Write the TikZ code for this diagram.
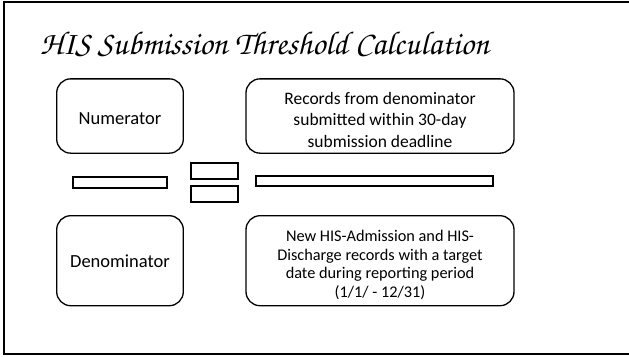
\documentclass[tikz,border=0pt]{standalone}
\usepackage{fontspec}
\setmainfont{Carlito}
\newfontfamily\titlefont{texgyrechorus-mediumitalic.otf}
\begin{document}
\begin{tikzpicture}[x=1pt,y=-1pt,
  rbox/.style={draw, line width=1.3pt, rounded corners=14pt, inner sep=0pt},
  txt/.style={align=center, inner sep=0pt},
  bar/.style={draw, line width=1.3pt, inner sep=0pt},
  toptxt/.style={txt, font=\fontsize{17.5}{21.5}\selectfont},
  bottxt/.style={txt, font=\fontsize{16.3}{18.9}\selectfont},
  lbl/.style={txt, font=\fontsize{18.5}{22}\selectfont}]
\useasboundingbox (0,0) rectangle (629,356);
\draw[line width=2pt] (4,2) rectangle (645,354);
\node (title) [anchor=base west, inner sep=0pt] at (40,54)
  {\titlefont\fontsize{33}{37}\selectfont HIS Submission Threshold Calculation};
\node (num) [rbox, minimum width=126.6pt, minimum height=74.3pt] at (120,116) {};
\node (numlbl) [lbl] at (120,118.5) {Numerator};
\node (numtxt) [rbox, minimum width=268pt, minimum height=74.3pt] at (380,116) {};
\node (numtxtlbl) [toptxt] at (380,119.5)
  {Records from denominator\\submitted within 30-day\\submission deadline};
\node (den) [rbox, minimum width=126.6pt, minimum height=90pt] at (120,260.7) {};
\node (denlbl) [lbl] at (120,261.5) {Denominator};
\node (dentxt) [rbox, minimum width=268pt, minimum height=90pt] at (380,260.7) {};
\node (dentxtlbl) [bottxt] at (380,265)
  {New HIS-Admission and HIS-\\Discharge records with a target\\date during reporting period\\(1/1/ - 12/31)};
\node (lbar) [bar, minimum width=94pt, minimum height=11pt] at (120,182.5) {};
\node (sq1) [bar, minimum width=47pt, minimum height=16pt] at (214.5,171) {};
\node (sq2) [bar, minimum width=47pt, minimum height=16pt] at (214.5,194) {};
\node (rbar) [bar, minimum width=237pt, minimum height=10pt] at (374.5,181) {};
\end{tikzpicture}
\end{document}
